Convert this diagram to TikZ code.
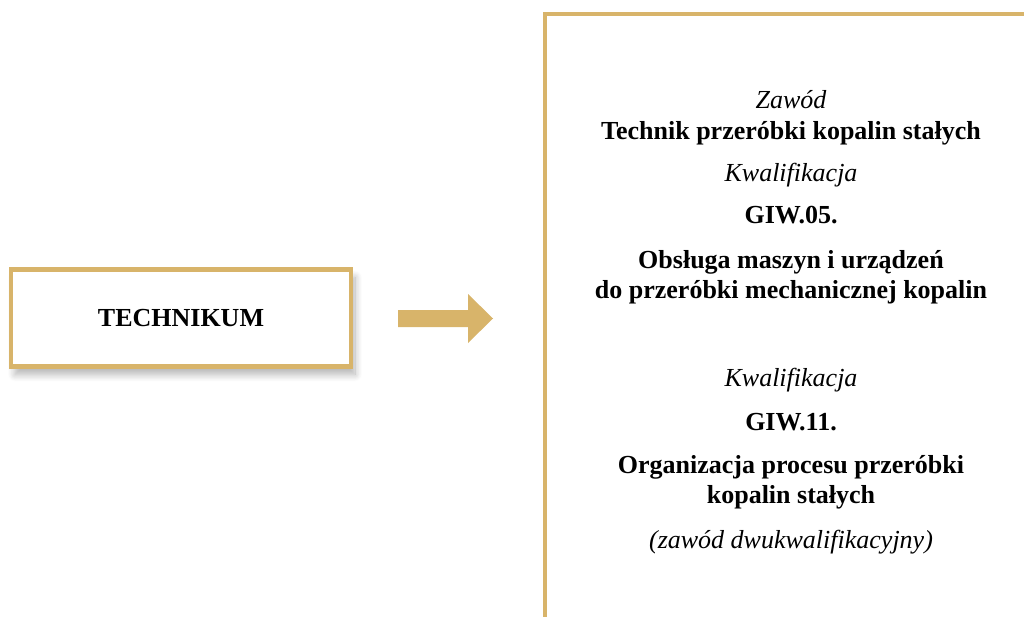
\documentclass[tikz,border=0pt]{standalone}
\usepackage{fontspec}
\setmainfont{Liberation Serif}
\usetikzlibrary{shadows.blur}
\definecolor{gold}{RGB}{216,180,106}
\tikzset{
  txt/.style={inner sep=0pt, align=center, anchor=center},
  bold/.style={txt, font=\fontsize{26}{30}\selectfont\bfseries},
  ital/.style={txt, font=\fontsize{26}{30}\selectfont\itshape},
}
\begin{document}
\begin{tikzpicture}[x=1pt,y=-1pt]
\useasboundingbox (0,0) rectangle (1024,617);
% left box
\node[draw=gold, line width=4.5pt, fill=white, minimum width=340pt, minimum height=97pt,
  blur shadow={shadow xshift=4pt, shadow yshift=-8pt, shadow opacity=30, shadow blur radius=7pt, shadow blur steps=12},
  font=\fontsize{26}{30}\selectfont\bfseries] (tech) at (181,318) {TECHNIKUM};
% arrow
\fill[gold] (398,310) -- (468,310) -- (468,294) -- (493,318.5) -- (468,343) -- (468,327) -- (398,327) -- cycle;
% right box (continues past the page edge)
\draw[gold, line width=4.5pt] (1024,14) -- (545,14) -- (545,617);
\coordinate (rb) at (545,14);
% texts
\node[ital] (z) at (791,100) {Zawód};
\node[bold] (t) at (791,133) {Technik przeróbki kopalin stałych};
\node[ital] (k1) at (791,175) {Kwalifikacja};
\node[bold] (g5) at (791,215) {GIW.05.};
\node[bold] (o1) at (791,277) {Obsługa maszyn i urządzeń\\do przeróbki mechanicznej kopalin};
\node[ital] (k2) at (791,380) {Kwalifikacja};
\node[bold] (g11) at (791,422) {GIW.11.};
\node[bold] (o2) at (791,482) {Organizacja procesu przeróbki\\kopalin stałych};
\node[ital] (d) at (791,542) {(zawód dwukwalifikacyjny)};
\end{tikzpicture}
\end{document}
